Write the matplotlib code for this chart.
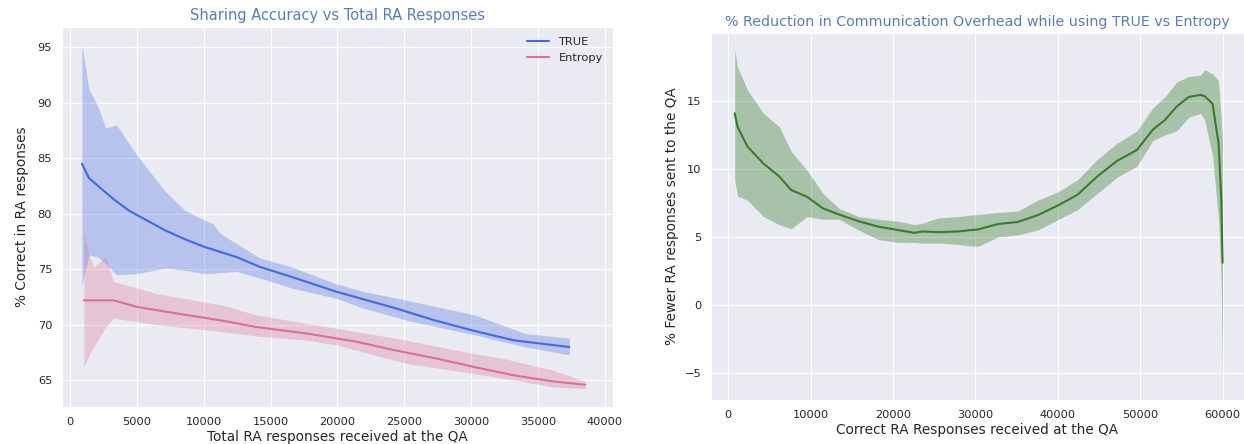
import matplotlib
matplotlib.use("Agg")
import matplotlib.pyplot as plt
import seaborn as sns

sns.set_style("darkgrid")
plt.rcParams['font.family'] = ['DejaVu Sans']

# left chart: sharing accuracy
true_x = [890, 1420, 3260, 4440, 7110, 8590, 10070, 12440, 14220, 16590,
          19850, 24300, 27260, 30220, 33190, 37330]
true_y = [84.5, 83.2, 81.3, 80.25, 78.5, 77.7, 77.0, 76.1, 75.2, 74.3,
          73.0, 71.5, 70.4, 69.45, 68.6, 68.0]
true_bx = [890, 1420, 2070, 2670, 3470, 5040, 7110, 8590, 10070, 10670, 11260, 12440,
           14220, 16590, 19850, 21930, 25190, 30220, 34070, 37330]
true_hi = [95.2, 91.2, 89.7, 87.7, 88.0, 85.2, 82.0, 80.3, 79.4, 79.1, 78.2, 77.3,
           76.0, 75.2, 73.7, 73.0, 72.2, 70.9, 69.2, 68.8]
true_lo = [73.6, 76.3, 76.1, 75.5, 74.5, 74.6, 75.1, 74.9, 74.6, 74.6, 74.7, 74.8,
           74.2, 73.3, 72.4, 71.5, 70.4, 69.1, 68.0, 67.3]

ent_x = [1040, 3260, 5040, 8590, 11260, 13930, 17780, 21330, 24300, 27260,
         30220, 33190, 36150, 38520]
ent_y = [72.2, 72.2, 71.6, 70.9, 70.4, 69.8, 69.2, 68.5, 67.7, 67.0,
         66.2, 65.45, 64.9, 64.6]
ent_bx = [1040, 1480, 1780, 2670, 3260, 6520, 11260, 13930, 17780, 19850, 24300, 25190,
          30220, 32300, 36150, 38520]
ent_hi = [78.2, 76.1, 75.2, 76.1, 73.9, 72.8, 71.8, 70.9, 70.1, 69.7, 68.8, 68.6,
          67.4, 67.0, 65.9, 64.9]
ent_lo = [66.2, 67.4, 68.0, 69.8, 70.6, 70.0, 69.4, 69.0, 68.6, 68.2, 66.8, 66.5,
          65.6, 65.2, 64.4, 64.25]

# right chart: reduction in overhead
red_x = [770, 1110, 2320, 4250, 6180, 7630, 9560, 11490, 13420, 15830, 18240, 20660,
         22590, 23550, 25480, 27900, 29340, 30310, 32720, 35140, 37550, 39960,
         42380, 44790, 47200, 49610, 51540, 52990, 54440, 55890, 57340, 57820,
         58780, 59510, 59850, 60000]
red_y = [14.1, 13.1, 11.65, 10.4, 9.45, 8.45, 7.95, 7.1, 6.65, 6.15, 5.75, 5.5,
         5.3, 5.4, 5.35, 5.4, 5.5, 5.55, 5.95, 6.1, 6.6, 7.3,
         8.1, 9.45, 10.6, 11.4, 12.9, 13.6, 14.6, 15.3, 15.45, 15.35,
         14.8, 11.9, 7.7, 3.1]
red_hi = [18.8, 17.5, 15.8, 14.1, 13.1, 11.3, 9.9, 8.2, 7.1, 6.5, 6.3, 6.15,
          5.9, 6.0, 6.4, 6.5, 6.6, 6.65, 6.8, 6.9, 7.7, 8.3,
          9.2, 10.7, 11.9, 12.8, 14.5, 15.3, 16.4, 16.8, 16.9, 17.3,
          17.0, 16.5, 13.5, 11.9]
red_lo = [9.2, 8.0, 7.7, 6.5, 5.9, 5.6, 6.5, 6.3, 6.3, 5.5, 4.8, 4.6,
          4.6, 4.55, 4.55, 4.45, 4.35, 4.3, 5.0, 5.15, 5.5, 6.25,
          7.0, 8.2, 9.4, 10.2, 12.1, 12.5, 12.8, 13.8, 14.1, 13.6,
          11.0, 6.3, 1.5, -5.7]

title_color = '#5b7cb9'

fig = plt.figure(figsize=(12.44, 4.44), dpi=100)
ax1 = fig.add_axes([0.0498, 0.0833, 0.443, 0.856])
ax2 = fig.add_axes([0.5716, 0.099, 0.4284, 0.8266])

ax1.fill_between(true_bx, true_lo, true_hi, color='royalblue', alpha=0.3, lw=0)
ax1.fill_between(ent_bx, ent_lo, ent_hi, color='palevioletred', alpha=0.3, lw=0)
ax1.plot(true_x, true_y, color='royalblue', lw=1.5, label='TRUE')
ax1.plot(ent_x, ent_y, color='palevioletred', lw=1.5, label='Entropy')
ax1.set_xlim(-600, 40600)
ax1.set_ylim(62.6, 96.8)
ax1.set_xticks(range(0, 40001, 5000))
ax1.set_title('Sharing Accuracy vs Total RA Responses', color=title_color, fontsize=10.5, pad=5)
ax1.set_xlabel('Total RA responses received at the QA', fontsize=9.8, labelpad=2)
ax1.set_ylabel('% Correct in RA responses', fontsize=9.8, labelpad=6)
ax1.tick_params(labelsize=8.2)
ax1.legend(loc='upper right', frameon=False, fontsize=8.2)

ax2.fill_between(red_x, red_lo, red_hi, color='#2e7a22', alpha=0.35, lw=0)
ax2.plot(red_x, red_y, color='#3a7a2e', lw=1.5)
ax2.set_xlim(-2100, 62600)
ax2.set_ylim(-7.0, 20.0)
ax2.set_yticks([-5, 0, 5, 10, 15])
ax2.set_title('% Reduction in Communication Overhead while using TRUE vs Entropy',
              color=title_color, fontsize=10.3, pad=5)
ax2.set_xlabel('Correct RA Responses received at the QA', fontsize=9.8, labelpad=2)
ax2.set_ylabel('% Fewer RA responses sent to the QA', fontsize=9.8)
ax2.tick_params(labelsize=8.2)

fig.savefig('out.png', dpi=100)
